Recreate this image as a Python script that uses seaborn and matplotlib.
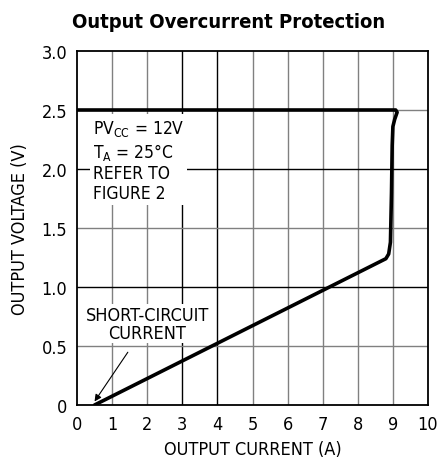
import seaborn as sns
import matplotlib.pyplot as plt
import pandas as pd

# curve (A, V)
current = [0.5, 8.80, 8.88, 8.93, 8.96, 8.98, 9.00, 9.05, 9.12, 9.08, 0.0]
voltage = [0.0, 1.24, 1.28, 1.38, 1.80, 2.20, 2.36, 2.42, 2.48, 2.50, 2.50]
x_ticks = [0, 1, 2, 3, 4, 5, 6, 7, 8, 9, 10]
y_ticks = [0, 0.5, 1.0, 1.5, 2.0, 2.5, 3.0]
y_labels = ['0', '0.5', '1.0', '1.5', '2.0', '2.5', '3.0']

df = pd.DataFrame({'Current': current, 'Voltage': voltage})

sns.set_style('white')
plt.rcParams['font.family'] = ['DejaVu Sans']
plt.rcParams['font.stretch'] = 'condensed'
plt.rcParams['text.color'] = 'black'
plt.rcParams['axes.labelcolor'] = 'black'
plt.rcParams['xtick.color'] = 'black'
plt.rcParams['ytick.color'] = 'black'

fig = plt.figure(figsize=(4.41, 4.60), dpi=100)
ax = fig.add_axes([77 / 441, 54 / 460, 351 / 441, 354 / 460])

# grid: some lines black, most gray
for x in x_ticks[1:-1]:
    ax.axvline(x, color='black' if x in (3, 4) else '#808080', lw=1.0, zorder=1)
for y in y_ticks[1:-1]:
    ax.axhline(y, color='black' if y in (1.0, 2.0) else '#808080', lw=1.0, zorder=1)

sns.lineplot(data=df, x='Current', y='Voltage', sort=False, color='black',
             lw=2.6, ax=ax, zorder=3)

ax.set_xlim(0, 10)
ax.set_ylim(0, 3.0)
ax.set_xticks(x_ticks)
ax.set_yticks(y_ticks)
ax.set_yticklabels(y_labels)
ax.tick_params(labelsize=13, length=0, pad=7)
for s in ax.spines.values():
    s.set_color('black')
    s.set_linewidth(1.3)

ax.set_xlabel('OUTPUT CURRENT (A)', fontsize=13, labelpad=5)
ax.set_ylabel('OUTPUT VOLTAGE (V)', fontsize=13, labelpad=9)

ax.text(0.45, 2.43, 'PV$_{\\mathregular{CC}}$ = 12V\nT$_{\\mathregular{A}}$ = 25°C\nREFER TO\nFIGURE 2',
        fontsize=12.5, va='top', ha='left', linespacing=1.15, zorder=4,
        bbox=dict(facecolor='white', edgecolor='none', pad=2))

ax.annotate('SHORT-CIRCUIT\nCURRENT', xy=(0.5, 0.03), xytext=(2.0, 0.69),
            fontsize=13, ha='center', va='center', linespacing=1.0, zorder=4,
            bbox=dict(facecolor='white', edgecolor='none', pad=1),
            arrowprops=dict(arrowstyle='-|>', color='black', lw=0.8,
                            shrinkA=8, shrinkB=0, mutation_scale=10))

fig.text(229 / 441, 1 - 22 / 460, 'Output Overcurrent Protection',
         fontsize=14.5, fontweight='bold', ha='center', va='center')

fig.savefig('out.png', dpi=100)
